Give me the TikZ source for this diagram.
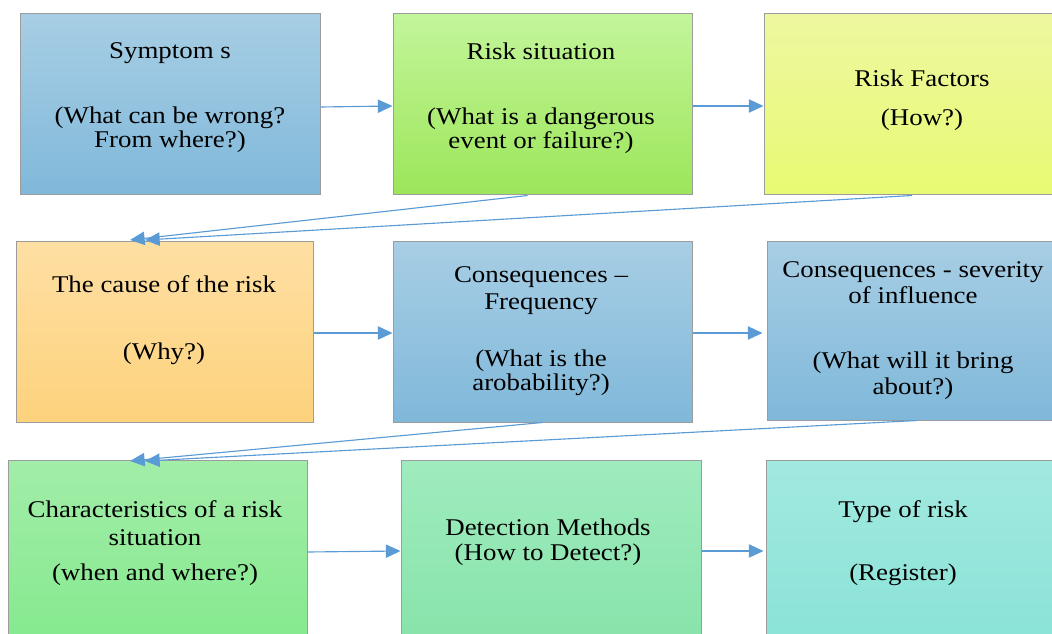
\documentclass[tikz,border=0pt]{standalone}
\usepackage{fontspec}
\setmainfont{Liberation Serif}
\usetikzlibrary{arrows.meta,fit,calc}
\definecolor{boxgray}{HTML}{9C9C9C}
\definecolor{arrblue}{HTML}{5B9BD5}
\definecolor{blueT}{HTML}{A7CEE4}
\definecolor{blueB}{HTML}{80B8DA}
\definecolor{grnT}{HTML}{C3F59A}
\definecolor{grnB}{HTML}{9CE65A}
\definecolor{yelT}{HTML}{EEF7A0}
\definecolor{yelB}{HTML}{E8FA72}
\definecolor{orgT}{HTML}{FEDFA3}
\definecolor{orgB}{HTML}{FDD27C}
\definecolor{mgT}{HTML}{A2EDA8}
\definecolor{mgB}{HTML}{82E98C}
\definecolor{sgT}{HTML}{9FEBBE}
\definecolor{sgB}{HTML}{85E3A8}
\definecolor{tqT}{HTML}{A2E9E0}
\definecolor{tqB}{HTML}{88E2D6}
\begin{document}
\begin{tikzpicture}[x=0.75pt,y=-0.75pt,
  box/.style={draw=boxgray,line width=0.75pt,inner sep=0pt},
  txt/.style={font=\fontsize{18}{18}\selectfont,align=center,xscale=1.12,transform shape,text=black},
  arr/.style={draw=arrblue,line width=0.85pt,-{Triangle[length=11pt,width=10pt]}}]
\useasboundingbox (0,0) rectangle (1052,634);
\clip (0,0) rectangle (1052,634);
% boxes
\node[box,top color=blueT,bottom color=blueB,fit={(20,14)(320,195)}] (b1) {};
\node[box,top color=grnT,bottom color=grnB,fit={(393,14)(692,195)}] (b2) {};
\node[box,top color=yelT,bottom color=yelB,fit={(764,14)(1080,195)}] (b3) {};
\node[box,top color=orgT,bottom color=orgB,fit={(16,242)(313,422)}] (b4) {};
\node[box,top color=blueT,bottom color=blueB,fit={(393,242)(692,422)}] (b5) {};
\node[box,top color=blueT,bottom color=blueB,fit={(767,242)(1059,420)}] (b6) {};
\node[box,top color=mgT,bottom color=mgB,fit={(8,460)(307,660)}] (b7) {};
\node[box,top color=sgT,bottom color=sgB,fit={(401,460)(701,660)}] (b8) {};
\node[box,top color=tqT,bottom color=tqB,fit={(766,460)(1060,660)}] (b9) {};
% texts
\node[txt] (t1) at (170,98) {Symptom s\\[30.75pt](What can be wrong?\\From where?)};
\node[txt] (t2) at (541,98) {Risk situation\\[30.75pt](What is a dangerous\\event or failure?)};
\node[txt] (t3) at (922,100) {Risk Factors\\[11.25pt](How?)};
\node[txt] (t4) at (164,320) {The cause of the risk\\[32.25pt](Why?)};
\node[txt] (t5) at (541,331) {Consequences –\\[2.25pt]Frequency\\[24.75pt](What is the\\arobability?)};
\node[txt] (t6) at (913,331) {Consequences - severity\\[1.5pt]of influence\\[30.75pt](What will it bring\\[1.5pt]about?)};
\node[txt] (t7) at (155,543) {Characteristics of a risk\\[3pt]situation\\[8.25pt](when and where?)};
\node[txt] (t8) at (548,542) {Detection Methods\\[0.75pt](How to Detect?)};
\node[txt] (t9) at (903,543) {Type of risk\\[29.25pt](Register)};
% horizontal arrows
\draw[arr] (b1.east |- 0,107) -- (b2.west |- 0,106);
\draw[arr] (b2.east |- 0,106) -- (b3.west |- 0,106);
\draw[arr] (b4.east |- 0,333) -- (b5.west |- 0,333);
\draw[arr] (b5.east |- 0,333) -- ($(b6.west |- 0,333)+(-4,0)$);
\draw[arr] (b7.east |- 0,552) -- (b8.west |- 0,551);
\draw[arr] (b8.east |- 0,551) -- ($(b9.west |- 0,551)+(-2,0)$);
% diagonal arrows
\coordinate (p1) at (130,240);
\coordinate (p2) at (145,240);
\coordinate (p3) at (130,461);
\coordinate (p4) at (145,461);
\draw[arr] ($(b2.south)+(-15,0)$) -- (p1);
\draw[arr] ($(b3.south)+(-10,0)$) -- (p2);
\draw[arr] (b5.south) -- (p3);
\draw[arr] ($(b6.south)+(4,0)$) -- (p4);
\end{tikzpicture}
\end{document}
